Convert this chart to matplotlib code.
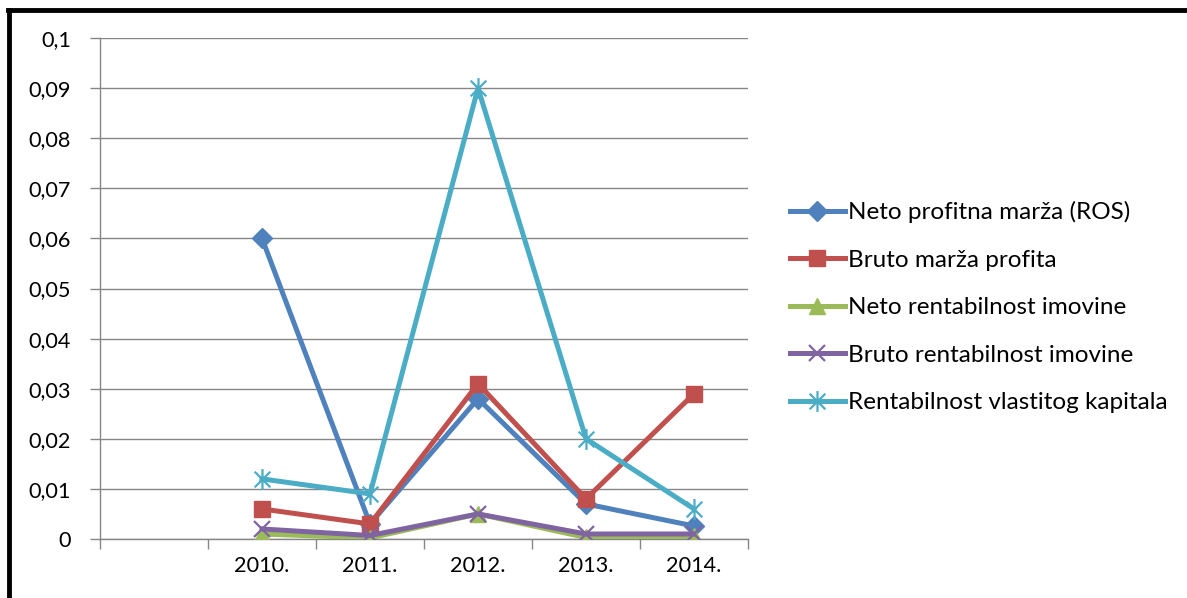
import matplotlib
matplotlib.use("Agg")
import matplotlib.pyplot as plt
from matplotlib.path import Path
from matplotlib.lines import Line2D

categories = ["", "2010.", "2011.", "2012.", "2013.", "2014."]
series_names = [
    "Neto profitna marža (ROS)",
    "Bruto marža profita",
    "Neto rentabilnost imovine",
    "Bruto rentabilnost imovine",
    "Rentabilnost vlastitog kapitala",
]
ros = [None, 0.060, 0.003, 0.028, 0.007, 0.0026]
bruto_marza = [None, 0.006, 0.003, 0.031, 0.008, 0.029]
neto_rent = [None, 0.001, 0.0002, 0.005, 0.0003, 0.0005]
bruto_rent = [None, 0.002, 0.0007, 0.005, 0.001, 0.001]
rent_kap = [None, 0.012, 0.009, 0.090, 0.020, 0.006]
yticks = [0, 0.01, 0.02, 0.03, 0.04, 0.05, 0.06, 0.07, 0.08, 0.09, 0.1]
ytick_labels = ["0", "0,01", "0,02", "0,03", "0,04", "0,05", "0,06", "0,07", "0,08", "0,09", "0,1"]

colors = ["#4F81BD", "#C0504D", "#9BBB59", "#8064A2", "#4BACC6"]

star = Path([(0, -1), (0, 1), (-0.75, -0.75), (0.75, 0.75), (-0.75, 0.75), (0.75, -0.75)],
            [Path.MOVETO, Path.LINETO, Path.MOVETO, Path.LINETO, Path.MOVETO, Path.LINETO])
markers = ["D", "s", "^", "x", star]
msizes = [10, 12, 12, 11, 15]

plt.rcParams['font.family'] = ['Lato', 'DejaVu Sans']

fig = plt.figure(figsize=(11.87, 5.98), dpi=100)
ax = fig.add_axes([100/1187, 1-539/598, 648/1187, 501/598])

data = [ros, bruto_marza, neto_rent, bruto_rent, rent_kap]
x = list(range(len(categories)))
for i, (vals, name) in enumerate(zip(data, series_names)):
    xs = [xi for xi, v in zip(x, vals) if v is not None]
    ys = [v for v in vals if v is not None]
    ax.plot(xs, ys, color=colors[i], lw=3.6, marker=markers[i], ms=msizes[i],
            mfc=colors[i], mec=colors[i], mew=1.6 if i >= 3 else 1, label=name,
            solid_joinstyle='round', zorder=3 + i)

ax.set_xlim(-0.5, 5.5)
ax.set_ylim(0, 0.1)
ax.set_yticks(yticks)
ax.set_yticklabels(ytick_labels)
ax.set_xticks(x)
ax.set_xticklabels(categories)
ax.set_xticks([i + 0.5 for i in range(-1, 6)], minor=True)
ax.tick_params(axis='x', which='major', length=0, pad=12, labelsize=15.6)
ax.tick_params(axis='x', which='minor', length=7, color='#868686', width=1, direction='out')
ax.tick_params(axis='y', length=7, color='#868686', width=1, direction='out', pad=14, labelsize=15.6)
ax.grid(axis='y', color='#868686', lw=1)
ax.set_axisbelow(True)
for s in ['top', 'right']:
    ax.spines[s].set_visible(False)
for s in ['left', 'bottom']:
    ax.spines[s].set_color('#868686')
    ax.spines[s].set_linewidth(1)

leg = fig.legend(loc='center left', bbox_to_anchor=(790/1187, 1-307/598), frameon=False,
                 fontsize=17.5, handlelength=2.25, handletextpad=0.12, labelspacing=1.09,
                 borderaxespad=0, borderpad=0)

# figure border (top and left)
fig.add_artist(Line2D([9.5/1187, 9.5/1187], [0, 1-10/598], transform=fig.transFigure, color='black', lw=3.5))
fig.add_artist(Line2D([8/1187, 1], [1-10/598, 1-10/598], transform=fig.transFigure, color='black', lw=3.5))

fig.savefig("out.png", dpi=100)
